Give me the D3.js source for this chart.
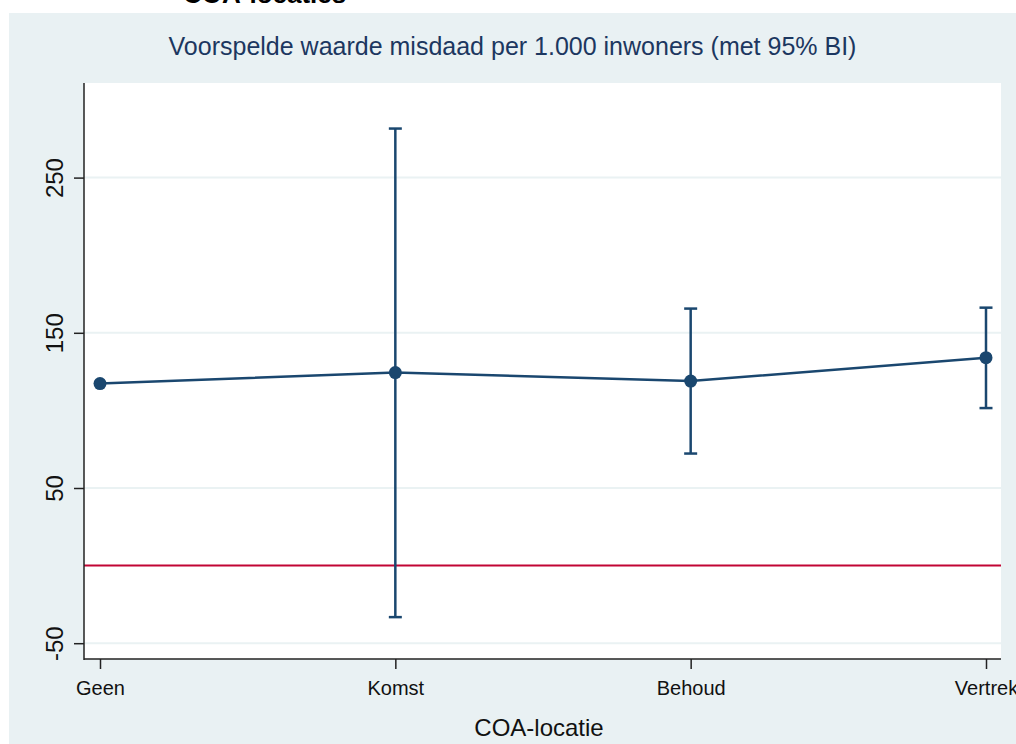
<!DOCTYPE html>
<html>
<head>
<meta charset="utf-8">
<script src="https://cdn.jsdelivr.net/npm/d3@7"></script>
<style>
  html, body { margin: 0; padding: 0; background: #ffffff; }
  svg { display: block; font-family: "Liberation Sans", Arial, sans-serif; }
</style>
</head>
<body>
<svg id="chart" width="1016" height="744"></svg>
<script>
// data
var categories = ["Geen", "Komst", "Behoud", "Vertrek"];
var predicted = [117.3, 124.4, 118.9, 134.0];
var lower = [null, -33.2, 72.2, 101.5];   // Geen is the reference category, no interval
var upper = [null, 281.6, 165.6, 166.2];
var yTicks = [-50, 50, 150, 250];

var svg = d3.select("#chart");

// plot region (pixels)
var plotLeft = 84, plotRight = 1001, plotTop = 83, plotBottom = 659;
var navy = "#1a476f";

// graph region background
svg.append("rect")
   .attr("x", 9).attr("y", 13)
   .attr("width", 1007).attr("height", 731)
   .attr("fill", "#e9f1f3");

// heading above the graph (cut off at the top edge, as in the original)
svg.append("text")
   .attr("x", 183).attr("y", 3)
   .attr("font-size", 26).attr("font-weight", "bold")
   .attr("fill", "#000")
   .text("COA-locaties");

// plot region
svg.append("rect")
   .attr("x", plotLeft).attr("y", plotTop)
   .attr("width", plotRight - plotLeft).attr("height", plotBottom - plotTop)
   .attr("fill", "#ffffff");

var x = d3.scalePoint()
          .domain(categories)
          .range([100, 986]);

var y = d3.scaleLinear()
          .domain([-50, 250])
          .range([643.2, 177.6]);

// gridlines
svg.selectAll("grid")
   .data(yTicks)
   .enter()
   .append("line")
   .attr("x1", plotLeft).attr("x2", plotRight)
   .attr("y1", function(d) { return y(d); })
   .attr("y2", function(d) { return y(d); })
   .attr("stroke", "#eaf2f3")
   .attr("stroke-width", 2);

// reference line at 0
svg.append("line")
   .attr("x1", plotLeft).attr("x2", plotRight)
   .attr("y1", y(0)).attr("y2", y(0))
   .attr("stroke", "#c10534")
   .attr("stroke-width", 2);

// y axis
var yAxis = svg.append("g")
   .attr("transform", "translate(" + plotLeft + ",0)")
   .call(d3.axisLeft(y).tickValues(yTicks).tickSize(10).tickSizeOuter(0)
           .tickFormat(function(d) { return String(d); }));
yAxis.select(".domain").remove();
yAxis.append("line")
   .attr("x1", 0).attr("x2", 0)
   .attr("y1", plotTop).attr("y2", plotBottom + 1)
   .attr("stroke", "#222").attr("stroke-width", 1.5);
yAxis.selectAll(".tick line").attr("stroke", "#222").attr("stroke-width", 1.5);
yAxis.selectAll(".tick text")
   .attr("x", null).attr("dy", null)
   .attr("transform", "translate(-21,0) rotate(-90)")
   .attr("text-anchor", "middle")
   .attr("font-size", 24)
   .attr("font-family", "Liberation Sans, Arial, sans-serif")
   .attr("fill", "#111");

// x axis
var xAxis = svg.append("g")
   .attr("transform", "translate(0," + plotBottom + ")")
   .call(d3.axisBottom(x).tickSize(10).tickSizeOuter(0));
xAxis.select(".domain").remove();
xAxis.append("line")
   .attr("x1", plotLeft).attr("x2", plotRight)
   .attr("y1", 0).attr("y2", 0)
   .attr("stroke", "#222").attr("stroke-width", 1.5);
xAxis.selectAll(".tick line").attr("stroke", "#222").attr("stroke-width", 1.5);
xAxis.selectAll(".tick text")
   .attr("y", 36).attr("dy", null)
   .attr("font-size", 20)
   .attr("font-family", "Liberation Sans, Arial, sans-serif")
   .attr("fill", "#111");

// error bars
var bars = categories.map(function(c, i) {
  return { cat: c, lo: lower[i], hi: upper[i] };
}).filter(function(d) { return d.lo != null; });

svg.selectAll("ciLine")
   .data(bars)
   .enter()
   .append("line")
   .attr("x1", function(d) { return x(d.cat); })
   .attr("x2", function(d) { return x(d.cat); })
   .attr("y1", function(d) { return y(d.lo); })
   .attr("y2", function(d) { return y(d.hi); })
   .attr("stroke", navy).attr("stroke-width", 2.5);

["lo", "hi"].forEach(function(k) {
  svg.selectAll("cap" + k)
     .data(bars)
     .enter()
     .append("line")
     .attr("x1", function(d) { return x(d.cat) - 6.5; })
     .attr("x2", function(d) { return x(d.cat) + 6.5; })
     .attr("y1", function(d) { return y(d[k]); })
     .attr("y2", function(d) { return y(d[k]); })
     .attr("stroke", navy).attr("stroke-width", 2.5);
});

// connecting line
var pts = categories.map(function(c, i) { return { cat: c, v: predicted[i] }; });
svg.append("path")
   .datum(pts)
   .attr("d", d3.line()
      .x(function(d) { return x(d.cat); })
      .y(function(d) { return y(d.v); }))
   .attr("fill", "none")
   .attr("stroke", navy)
   .attr("stroke-width", 2.5);

// markers
svg.selectAll("dots")
   .data(pts)
   .enter()
   .append("circle")
   .attr("cx", function(d) { return x(d.cat); })
   .attr("cy", function(d) { return y(d.v); })
   .attr("r", 6.5)
   .attr("fill", navy);

// title
svg.append("text")
   .attr("x", 512.5).attr("y", 55)
   .attr("text-anchor", "middle")
   .attr("font-size", 25)
   .attr("fill", "#1c3760")
   .text("Voorspelde waarde misdaad per 1.000 inwoners (met 95% BI)");

// x axis title
svg.append("text")
   .attr("x", 539).attr("y", 736)
   .attr("text-anchor", "middle")
   .attr("font-size", 24)
   .attr("fill", "#111")
   .text("COA-locatie");
</script>
</body>
</html>
